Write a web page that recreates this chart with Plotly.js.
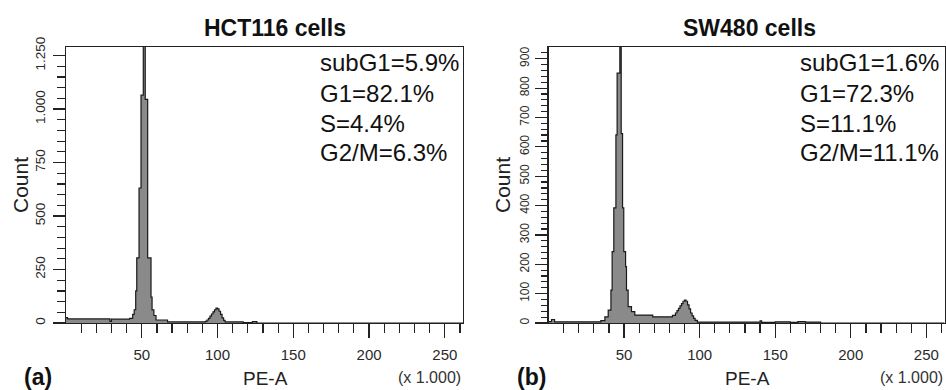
<!DOCTYPE html>
<html>
<head>
<meta charset="utf-8">
<script src="https://cdn.plot.ly/plotly-3.0.1.min.js"></script>
<style>html,body{margin:0;padding:0;background:#fff;}#chart{width:946px;height:390px;}</style>
</head>
<body>
<div id="chart"></div>
<script>
// ---- Data (PE-A in units of 1.000, counts) ----
// HCT116: bin left edges (last value = end of last bin) and counts per bin
const hctEdges = [0, 1, 29, 30, 42, 44, 45, 46, 46.7, 48.2, 49.5, 51.0, 52.3, 53.9, 56.1, 56.8, 58, 59.4, 67, 92, 93, 94, 95, 96, 97, 98, 99, 100, 101, 102, 103, 104, 105, 117, 123, 126, 262];
const hctCounts = [25, 19, 8, 18, 22, 40, 62, 150, 304, 631, 1065, 1500, 1045, 304, 121, 61, 35, 14, 5, 8, 14, 22, 32, 42, 52, 62, 70, 66, 55, 40, 24, 12, 5, 2, 6, 0];

// SW480
const swEdges = [0, 2, 4, 34.6, 37.3, 39.5, 41.3, 42.1, 43.2, 44.6, 45.4, 47.2, 48.1, 49, 49.8, 51, 51.6, 52.7, 54.9, 57.1, 69, 82, 84, 85, 86, 87, 88, 89, 90, 91, 92, 93, 94, 95, 96, 97, 98.5, 140, 141, 150, 160, 165, 170, 180, 262];
const swCounts = [5, 12, 4, 8, 21, 44, 112, 243, 392, 641, 851, 1000, 645, 392, 243, 192, 112, 56, 39, 27, 21, 26, 34, 42, 50, 58, 66, 74, 78, 74, 62, 48, 34, 24, 16, 9, 3, 7, 2, 4, 2, 5, 3, 0];

// Tick labels
const xTickVals = [50, 100, 150, 200, 250];
const xTickText = ['50', '100', '150', '200', '250'];
const hctYTickVals = [0, 250, 500, 750, 1000, 1250];
const hctYTickText = ['0', '250', '500', '750', '1.000', '1.250'];
const swYTickVals = [0, 100, 200, 300, 400, 500, 600, 700, 800, 900];
const swYTickText = ['0', '100', '200', '300', '400', '500', '600', '700', '800', '900'];

// Panel texts
const panelTitles = ['HCT116 cells', 'SW480 cells'];
const panelLetters = ['(a)', '(b)'];
const hctStats = ['subG1=5.9%', 'G1=82.1%', 'S=4.4%', 'G2/M=6.3%'];
const swStats = ['subG1=1.6%', 'G1=72.3%', 'S=11.1%', 'G2/M=11.1%'];

// ---- Build ----
function stepTrace(edges, counts, xa, ya) {
  return {
    type: 'scatter', mode: 'lines',
    x: edges.slice(),
    y: counts.concat([counts[counts.length - 1]]),
    line: {shape: 'hv', color: '#1a1a1a', width: 1.2},
    fill: 'tozeroy', fillcolor: '#8a8a8a',
    xaxis: xa, yaxis: ya, hoverinfo: 'x+y', showlegend: false
  };
}

const W = 946, H = 390;
const px = v => v / W;
const py = v => 1 - v / H;
const plotTop = 47, plotBottom = 323;
const panels = [
  {l: 66, r: 463},
  {l: 548.5, r: 944.5}
];

function minorList(step, max, skip) {
  const out = [];
  for (let v = step; v <= max; v += step) if (v % skip !== 0) out.push(v);
  return out;
}

const axisCommon = {
  showline: true, linecolor: '#222', linewidth: 1.2, mirror: true,
  ticks: 'outside', tickcolor: '#222', tickwidth: 1.2,
  showgrid: false, zeroline: false, fixedrange: true,
  tickmode: 'array'
};

const xTickFont = {family: 'Liberation Sans, Arial, sans-serif', size: 15, color: '#2a2a2a'};

const layout = {
  width: W, height: H,
  margin: {l: 0, r: 0, t: 0, b: 0},
  paper_bgcolor: '#fff', plot_bgcolor: '#fff',
  showlegend: false,
  xaxis: Object.assign({}, axisCommon, {
    domain: [px(panels[0].l), px(panels[0].r)], range: [0, 262], anchor: 'y',
    tickvals: xTickVals, ticktext: xTickText, ticklen: 14, tickfont: xTickFont,
    ticklabelstandoff: 4,
    minor: {tickmode: 'array', tickvals: minorList(10, 260, 50), ticks: 'outside', ticklen: 9, tickcolor: '#222', tickwidth: 1.2}
  }),
  yaxis: Object.assign({}, axisCommon, {
    domain: [py(plotBottom), py(plotTop)], range: [0, 1290], anchor: 'x',
    tickvals: hctYTickVals, ticktext: hctYTickText, ticklen: 12, tickangle: -90,
    ticklabelstandoff: 2,
    tickfont: {family: 'Liberation Sans, Arial, sans-serif', size: 13.5, color: '#2a2a2a'},
    minor: {tickmode: 'array', tickvals: minorList(50, 1250, 250), ticks: 'outside', ticklen: 8, tickcolor: '#222', tickwidth: 1.2}
  }),
  xaxis2: Object.assign({}, axisCommon, {
    domain: [px(panels[1].l), px(panels[1].r)], range: [0, 262], anchor: 'y2',
    tickvals: xTickVals, ticktext: xTickText, ticklen: 14, tickfont: xTickFont,
    ticklabelstandoff: 4,
    minor: {tickmode: 'array', tickvals: minorList(10, 260, 50), ticks: 'outside', ticklen: 9, tickcolor: '#222', tickwidth: 1.2}
  }),
  yaxis2: Object.assign({}, axisCommon, {
    domain: [py(plotBottom), py(plotTop)], range: [0, 940], anchor: 'x2',
    tickvals: swYTickVals, ticktext: swYTickText, ticklen: 12, tickangle: -90,
    ticklabelstandoff: 2,
    tickfont: {family: 'Liberation Sans, Arial, sans-serif', size: 12, color: '#2a2a2a'},
    minor: {tickmode: 'array', tickvals: minorList(20, 920, 100), ticks: 'outside', ticklen: 6, tickcolor: '#222', tickwidth: 1.2}
  }),
  annotations: []
};

const fam = 'Liberation Sans, Arial, sans-serif';
function ann(text, x, y, opts) {
  return Object.assign({
    text: text, x: px(x), y: py(y), xref: 'paper', yref: 'paper',
    showarrow: false, xanchor: 'center', yanchor: 'middle',
    font: {family: fam, size: 16, color: '#111'}
  }, opts || {});
}

const statsList = [hctStats, swStats];
const statX = [318, 797.5];
const statY = [63, 93, 123, 153];
const titleX = [275, 749];
const countX = [20, 502];
const peaX = [265, 747];
const letterX = [38, 531];

for (let i = 0; i < 2; i++) {
  layout.annotations.push(ann('<b>' + panelTitles[i] + '</b>', titleX[i], 28, {font: {family: fam, size: 23, color: '#111'}}));
  statsList[i].forEach((s, k) => {
    layout.annotations.push(ann(s, statX[i], statY[k], {xanchor: 'left', font: {family: fam, size: 24, color: '#111'}}));
  });
  layout.annotations.push(ann('Count', countX[i], 185, {textangle: -90, font: {family: fam, size: 21, color: '#222'}}));
  layout.annotations.push(ann('PE-A', peaX[i], 378, {font: {family: fam, size: 19, color: '#222'}}));
  layout.annotations.push(ann('(x 1.000)', panels[i].r, 377, {xanchor: 'right', font: {family: fam, size: 16, color: '#333'}}));
  layout.annotations.push(ann('<b>' + panelLetters[i] + '</b>', letterX[i], 377, {font: {family: fam, size: 23, color: '#111'}}));
}

const data = [
  stepTrace(hctEdges, hctCounts, 'x', 'y'),
  stepTrace(swEdges, swCounts, 'x2', 'y2')
];

Plotly.newPlot('chart', data, layout, {displayModeBar: false, staticPlot: true});
</script>
</body>
</html>
